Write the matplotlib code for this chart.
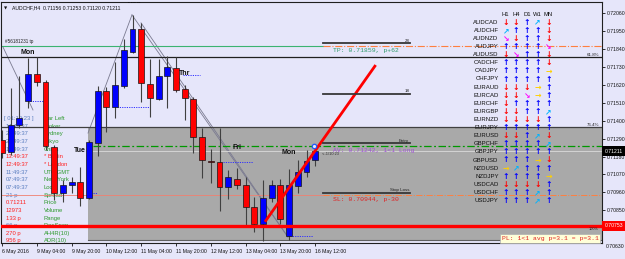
import matplotlib
matplotlib.use('Agg')
import matplotlib.pyplot as plt
from matplotlib.patches import Rectangle

# ---------------- data ----------------
title_text = "AUDCHF,H4  0.71156 0.71253 0.71120 0.71211"

bar_open = [0.71281, 0.71208, 0.71374, 0.71521, 0.71687, 0.71638, 0.71238, 0.70956, 0.71005, 0.71023,
            0.70925, 0.71263, 0.71582, 0.71484, 0.71613, 0.71822, 0.71964, 0.71626, 0.71533, 0.71675,
            0.71724, 0.71595, 0.71533, 0.71300, 0.71155, 0.71146, 0.70993, 0.71042, 0.71005, 0.70870,
            0.70765, 0.70925, 0.71005, 0.70692, 0.70999, 0.71085, 0.71156]
bar_high = [0.71343, 0.71601, 0.71675, 0.71785, 0.71791, 0.71650, 0.71251, 0.71036, 0.71054, 0.71115,
            0.71281, 0.71613, 0.71607, 0.71761, 0.71902, 0.72050, 0.72000, 0.71779, 0.71779, 0.71798,
            0.71791, 0.71619, 0.71546, 0.71355, 0.71226, 0.71355, 0.71097, 0.71109, 0.71054, 0.70931,
            0.71036, 0.71036, 0.71042, 0.71103, 0.71158, 0.71220, 0.71253]
bar_low = [0.71171, 0.71189, 0.71355, 0.71478, 0.71613, 0.71220, 0.70913, 0.70900, 0.70956, 0.70876,
           0.70919, 0.71183, 0.71331, 0.71417, 0.71601, 0.71816, 0.71515, 0.71423, 0.71527, 0.71478,
           0.71576, 0.71404, 0.71201, 0.71048, 0.71017, 0.70845, 0.70919, 0.70980, 0.70753, 0.70716,
           0.70661, 0.70900, 0.70765, 0.70667, 0.70956, 0.71054, 0.71120]
bar_close = [0.71202, 0.71374, 0.71417, 0.71687, 0.71638, 0.71245, 0.70956, 0.71005, 0.71023, 0.70925,
             0.71269, 0.71582, 0.71484, 0.71619, 0.71834, 0.71964, 0.71632, 0.71540, 0.71675, 0.71730,
             0.71589, 0.71540, 0.71300, 0.71158, 0.71149, 0.70993, 0.71054, 0.71005, 0.70870, 0.70765,
             0.70925, 0.71005, 0.70796, 0.71005, 0.71085, 0.71152, 0.71211]

time_tick_bars = [0, 4, 8, 12, 16, 20, 24, 28, 32, 36]
time_tick_labels = ["6 May 2016", "9 May 04:00", "9 May 20:00", "10 May 12:00", "11 May 04:00",
                    "11 May 20:00", "12 May 12:00", "13 May 04:00", "13 May 20:00", "16 May 12:00"]
price_ticks = [0.72060, 0.71950, 0.71840, 0.71730, 0.71620, 0.71510, 0.71400, 0.71290,
               0.71180, 0.71070, 0.70960, 0.70850]
price_tick_extra = 0.70630

last_price = 0.71211
red_line_price = 0.70753
tp_price = 0.71859
av_price = 0.71242
sl_price = 0.70944
fib618_price = 0.71790
fib764_price = 0.71361
zone_bottom = 0.70667
zone_start_bar = 9.88

level_prices = [0.71876, 0.71566, 0.71263, 0.70958]
level_names = ["28", "18", "Entry", "Stop Loss"]
level_bars = [36.9, 46.9]

trend_bars = [30.23, 42.95]
trend_prices = [0.70779, 0.71742]

zigzag_bars = [[0.11, 3.56], [9.89, 14.94], [14.94, 32.87], [15.98, 32.87]]
zigzag_prices = [[0.71853, 0.71466], [0.71324, 0.72050], [0.72050, 0.70685], [0.72001, 0.70685]]

dotted_bars = [[3.22, 4.71], [13.2, 17.0], [20.8, 22.76], [10.46, 10.92], [25.4, 28.85], [33.1, 35.75]]
dotted_prices = [0.71521, 0.71484, 0.71681, 0.70956, 0.71146, 0.70692]

day_names = ["Mon", "Wed", "Thr", "Tue", "Fri", "Mon"]
day_bars = [2.18, 14.37, 20.34, 8.28, 26.44, 32.18]
day_prices = [0.71822, 0.72130, 0.71693, 0.71214, 0.71238, 0.71202]

info_left = ["[ 01:10:23 ]", "14:49:37", "21:49:37", "20:49:37", "19:49:37", "13:49:37", "12:49:37",
             "11:49:37", "07:49:37", "07:49:37", "21 p", "0.71211", "12973", "133 p", "66 p",
             "270 p", "956 p"]
info_left_red = [0, 0, 0, 0, 0, 1, 1, 0, 0, 0, 0, 1, 1, 1, 0, 1, 1]
info_right = ["Bar Left", "Broker", "Sydney", "Tokyo", "China", "* Berlin", "* London", "UTC/GMT",
              "New York", "Local", "Spread", "Price", "Volume", "Range", "PipsSpan", "AH4R(10)",
              "ADR(10)"]
info_right_red = [0, 0, 0, 0, 0, 1, 1, 0, 0, 0, 0, 0, 0, 0, 0, 0, 0]

tf_names = ["H1", "H4", "D1", "W1", "MN"]
pairs = ["AUDCAD", "AUDCHF", "AUDNZD", "AUDJPY", "AUDUSD", "CADCHF", "CADJPY", "CHFJPY", "EURAUD",
         "EURCAD", "EURCHF", "EURGBP", "EURNZD", "EURJPY", "EURUSD", "GBPCHF", "GBPJPY", "GBPUSD",
         "NZDUSD", "NZDJPY", "USDCAD", "USDCHF", "USDJPY"]
# D=down, U=up, u=up-right, d=down-right, R=right
signals = ["DDUuD", "uUUUD", "dDUUD", "UUUUd", "DdUUD", "UUUUD", "UUUUR", "UUUUU", "DDDRU",
           "DDdRU", "DUUUU", "DDUUu", "DDDDU", "UUUUU", "DDUuD", "UUUUu", "UUUUU", "UUURD",
           "RuUUU", "UUUUR", "DDDDU", "UUUuU", "UUUuU"]

# ---------------- layout helpers ----------------
W, H = 625, 259
BG = '#E6E6FA'
BAR_PX = 8.7
AX_L, AX_R, AX_T, AX_B = 1, 602, 2, 243


def px_to_price(y):
    return 0.721417 - 6.145e-5 * y


def fx(x):
    return x / W


def fy(y):
    return 1 - y / H


fig = plt.figure(figsize=(W / 100, H / 100), dpi=100, facecolor=BG)
ax = fig.add_axes([fx(AX_L), fy(AX_B), (AX_R - AX_L) / W, (AX_B - AX_T) / H])
ax.set_facecolor(BG)
ax.set_xlim((AX_L - 2) / BAR_PX, (AX_R - 2) / BAR_PX)
ax.set_ylim(px_to_price(AX_B), px_to_price(AX_T))
for s in ax.spines.values():
    s.set_color('#202020')
    s.set_linewidth(0.8)

SANS = ['Liberation Sans', 'DejaVu Sans']
MONO = ['Liberation Mono', 'DejaVu Sans Mono']
xmin, xmax = ax.get_xlim()

# gray zone
ax.add_patch(Rectangle((zone_start_bar, zone_bottom), xmax - zone_start_bar, fib764_price - zone_bottom,
                       facecolor='#A9A9A9', edgecolor='none', zorder=0.5))
ax.plot([zone_start_bar, xmax], [zone_bottom, zone_bottom], color='#606060', lw=0.8, zorder=0.6)

# zigzag lines
for xs, ys in zip(zigzag_bars, zigzag_prices):
    ax.plot(xs, ys, color='#7A7A90', lw=0.6, zorder=1)


def axfx(x):
    return (x - AX_L) / (AX_R - AX_L)


def axfy(y):
    return 1 - (y - AX_T) / (AX_B - AX_T)


# info panel
row0, drow = 118.7, 7.64
for i, (sl, rl) in enumerate(zip(info_left, info_left_red)):
    ax.text(axfx(4 if i == 0 else 6), axfy(row0 + i * drow), sl, transform=ax.transAxes,
            fontsize=4.2, family=SANS, va='center', ha='left',
            color='#FF2020' if rl else '#5A7EC0', zorder=1.5)
for i, (sr, rr) in enumerate(zip(info_right, info_right_red)):
    ax.text(axfx(44), axfy(row0 + i * drow), sr, transform=ax.transAxes,
            fontsize=4.2, family=SANS, va='center', ha='left',
            color='#FF2020' if rr else '#2E9A2E', zorder=1.5)

# horizontal lines
ax.plot([xmin, level_bars[0]], [tp_price, tp_price], color='#3CB371', lw=0.8, zorder=2)
ax.plot([level_bars[0], xmax], [tp_price, tp_price], color='#FF7F3F', lw=0.8, ls='-.', zorder=2)
ax.plot([xmin, level_bars[0]], [sl_price, sl_price], color='#F08070', lw=0.6, zorder=2)
ax.plot([level_bars[0], xmax], [sl_price, sl_price], color='#FF7F3F', lw=0.7, ls='-.', zorder=2)
ax.axhline(fib618_price, color='#202020', lw=0.9, zorder=2)
ax.axhline(fib764_price, color='#404040', lw=0.9, zorder=2)
ax.plot([10.5, xmax], [last_price, last_price], color='#D4D4D4', lw=0.7, zorder=2)
ax.plot([10.5, xmax], [av_price, av_price], color='#009900', lw=0.9, ls=(0, (6, 2, 1.5, 2)), zorder=2)

# blue dotted markers
for xs, yv in zip(dotted_bars, dotted_prices):
    ax.plot(xs, [yv, yv], color='#3030FF', lw=0.7, ls=(0, (1.2, 1.2)), zorder=2)

# candles
for i, (o, h, l, c) in enumerate(zip(bar_open, bar_high, bar_low, bar_close)):
    ax.vlines(i, l, h, color='#404040', lw=0.8, zorder=3)
    up = c >= o
    bottom = min(o, c)
    height = max(abs(c - o), 0.00004)
    ax.add_patch(Rectangle((i - 0.34, bottom), 0.68, height,
                           facecolor='#0000FF' if up else '#FF0000',
                           edgecolor='#151515', lw=0.5, zorder=3.2))

# red price line and trend line
ax.axhline(red_line_price, color='#FF0000', lw=2.4, zorder=4)
ax.plot(trend_bars, trend_prices, color='#FF0000', lw=2.0, zorder=4, solid_capstyle='butt')

# level lines
for lp, ln in zip(level_prices, level_names):
    ax.plot(level_bars, [lp, lp], color='#383838', lw=1.3, zorder=4)
    ax.text(level_bars[1] - 0.1, lp + 0.00003, ln, fontsize=3.2, family=SANS, ha='right',
            va='bottom', color='#202020', zorder=5)

# circle marker
ax.plot([35.9], [0.71246], marker='o', ms=3.2, mfc='#E6E6FA', mec='#1E5AFF', mew=0.9, zorder=5)

# order texts
ax.text(38.05, 0.71830, "TP: 0.71859, p+62", fontsize=4.6, family=MONO, color='#2E9A6A',
        va='center', ha='left', zorder=5)
ax.text(38.05, 0.71214, "AV: 0.71242, 1<1 Long", fontsize=4.6, family=MONO, color='#A050D8',
        va='center', ha='left', zorder=5)
ax.text(38.05, 0.70913, "SL: 0.70944, p-30", fontsize=4.6, family=MONO, color='#E02020',
        va='center', ha='left', zorder=5)
ax.text(36.8, 0.71195, "<--1/10:23", fontsize=2.8, family=SANS, color='#303030',
        va='center', ha='left', zorder=5)

# fib labels
ax.text(68.7, fib618_price + 0.00003, "61.8%", fontsize=3.2, family=SANS, ha='right', va='bottom',
        color='#202020', zorder=5)
ax.text(68.7, fib764_price + 0.00003, "76.4%", fontsize=3.2, family=SANS, ha='right', va='bottom',
        color='#202020', zorder=5)
ax.text(axfx(599), axfy(230.5), "100%", transform=ax.transAxes, fontsize=2.8, family=SANS,
        ha='right', va='bottom', color='#202020', zorder=5)

# day labels
for dn, db, dp in zip(day_names, day_bars, day_prices):
    ax.text(db, dp, dn, fontsize=5.0, family=SANS, fontweight='bold', color='#101010',
            ha='left', va='center', zorder=5, clip_on=True)

# title
ax.text(axfx(12), axfy(8), title_text, transform=ax.transAxes, fontsize=3.7, family=SANS,
        color='#101010', va='center', ha='left', zorder=5)
ax.text(axfx(4), axfy(8), "\u25BC", transform=ax.transAxes, fontsize=3.0, family=['DejaVu Sans'],
        color='#101010', va='center', ha='left', zorder=5)
ax.text(axfx(5), axfy(42), "#56181231 tp", transform=ax.transAxes, fontsize=3.3, family=SANS,
        color='#202020', va='center', ha='left', zorder=5)

# pairs table
col_x = [505.7, 516.2, 526.9, 537.6, 548.5]
arrow_chars = {'D': ('\u2193', '#FF0000'), 'U': ('\u2191', '#0000FF'), 'u': ('\u2197', '#00B4FF'),
               'd': ('\u2198', '#FF00FF'), 'R': ('\u2192', '#FFD000')}
for cx, tn in zip(col_x, tf_names):
    ax.text(axfx(cx), axfy(14), tn, transform=ax.transAxes, fontsize=4.2, family=SANS,
            color='#101010', ha='center', va='center', zorder=6)
for k, (pname, sig) in enumerate(zip(pairs, signals)):
    yy = 22.3 + k * 8.1
    ax.text(axfx(498.5), axfy(yy), pname, transform=ax.transAxes, fontsize=4.3, family=SANS,
            color='#101010', ha='right', va='center', zorder=6)
    for cx, code in zip(col_x, sig):
        ch, col = arrow_chars[code]
        ax.text(axfx(cx), axfy(yy), ch, transform=ax.transAxes, fontsize=5.6,
                family=['DejaVu Sans'], fontweight='bold', color=col, ha='center', va='center',
                zorder=6)

# PL box
ax.text(axfx(550), axfy(238.2), "PL: 1<1 avg p=3.1 = p=3.1", transform=ax.transAxes, fontsize=4.6,
        family=MONO, color='#E02020', ha='center', va='center', zorder=7, clip_on=False,
        bbox=dict(boxstyle='square,pad=0.3', facecolor='#FFFFD8', edgecolor='#B0B0B0', lw=0.5))

# axes ticks
ax.yaxis.tick_right()
ax.set_yticks(price_ticks)
ax.set_yticklabels(["%.5f" % v for v in price_ticks])
ax.tick_params(axis='y', length=2, width=0.6, pad=1.2, labelsize=3.7, colors='#101010')
ax.set_xticks(time_tick_bars)
ax.set_xticklabels(time_tick_labels)
ax.tick_params(axis='x', length=2.5, width=0.6, pad=1.5, labelsize=3.7, colors='#101010')
for lab in ax.get_xticklabels():
    lab.set_ha('left')
    lab.set_family(SANS)
for lab in ax.get_yticklabels():
    lab.set_family(SANS)

fig.text(fx(606), fy(246), "%.5f" % price_tick_extra, fontsize=3.7, family=SANS, color='#101010',
         ha='left', va='center')

# price boxes on the axis
for price, fc in [(last_price, '#000000'), (red_line_price, '#FF0000')]:
    yp = (0.721417 - price) / 6.145e-5
    fig.patches.append(Rectangle((fx(602), fy(yp + 5)), 23 / W, 10 / H, transform=fig.transFigure,
                                 facecolor=fc, edgecolor='none', zorder=5))
    fig.text(fx(605), fy(yp), "%.5f" % price, fontsize=3.7, family=SANS, color='white',
             ha='left', va='center', zorder=6)

fig.savefig('out.png', dpi=100, facecolor=BG)
